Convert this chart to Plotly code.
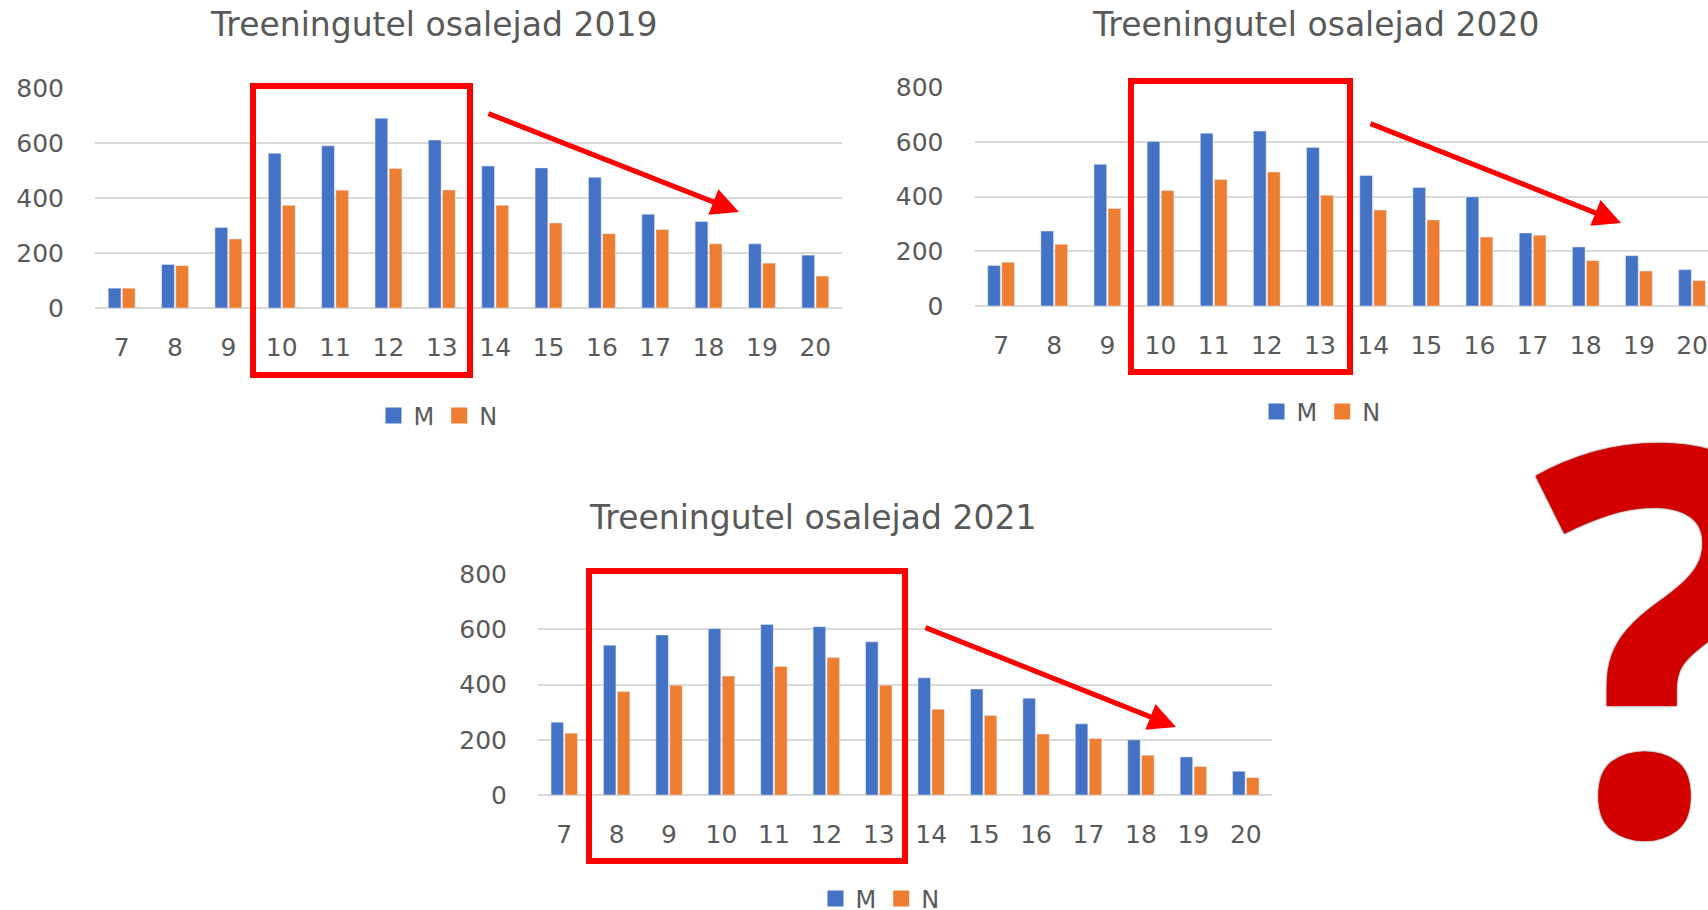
import plotly.graph_objects as go

W, H = 1708, 910

ages = ["7", "8", "9", "10", "11", "12", "13", "14", "15", "16", "17", "18", "19", "20"]
m_2019 = [72, 158, 292, 562, 589, 689, 610, 516, 509, 475, 341, 314, 233, 192]
n_2019 = [72, 154, 251, 373, 428, 507, 429, 373, 309, 270, 285, 233, 163, 116]
m_2020 = [148, 274, 518, 602, 632, 640, 580, 477, 433, 399, 267, 216, 184, 133]
n_2020 = [160, 226, 357, 422, 463, 490, 405, 351, 315, 252, 259, 166, 128, 93]
m_2021 = [264, 543, 580, 603, 618, 610, 555, 425, 384, 351, 258, 200, 138, 86]
n_2021 = [224, 375, 398, 431, 466, 498, 398, 311, 288, 221, 205, 144, 103, 63]
titles = ["Treeningutel osalejad 2019", "Treeningutel osalejad 2020", "Treeningutel osalejad 2021"]
series_names = ["M", "N"]

BLUE = "#4472C4"
ORANGE = "#ED7D31"
GRAY = "#595959"
GRID = "#D9D9D9"
RED = "#FF0000"
FONT = "DejaVu Sans"


def px(x):
    return x / W


def py(y):
    return 1 - y / H


fig = go.Figure()

data = [(m_2019, n_2019), (m_2020, n_2020), (m_2021, n_2021)]
colors = [BLUE, ORANGE]
for i, pair in enumerate(data):
    k = "" if i == 0 else str(i + 1)
    leg = "legend" + k
    for vals, name, col in zip(pair, series_names, colors):
        fig.add_trace(go.Bar(x=ages, y=vals, name=name, marker_color=col,
                             xaxis="x" + k, yaxis="y" + k, showlegend=False))
    # legend entries with larger square swatches
    for name, col in zip(series_names, colors):
        fig.add_trace(go.Scatter(x=[None], y=[None], mode="markers", name=name,
                                 marker=dict(symbol="square", size=16, color=col),
                                 xaxis="x" + k, yaxis="y" + k, legend=leg,
                                 hoverinfo="skip"))

# subplot geometry (pixels)
geo = [
    dict(xd=(95, 842), yd=(308, 87.5), xr=[-0.5, 13.5], title=(433, 24), leg=(438, 416)),
    dict(xd=(974.5, 1708), yd=(306, 87), xr=[-0.5, 13.3], title=(1315, 24), leg=(1321, 412)),
    dict(xd=(538, 1272), yd=(795, 574), xr=[-0.5, 13.5], title=(812, 517), leg=(880, 899)),
]

layout = dict(
    width=W, height=H, autosize=False,
    margin=dict(l=0, r=0, t=0, b=0, autoexpand=False),
    paper_bgcolor="white", plot_bgcolor="white",
    barmode="group", bargap=0.47, bargroupgap=0.1,
    font=dict(family=FONT, color=GRAY),
    showlegend=True,
)

annotations = []
shapes = []
for i, g in enumerate(geo):
    k = "" if i == 0 else str(i + 1)
    layout["xaxis" + k] = dict(
        domain=[px(g["xd"][0]), min(1, px(g["xd"][1]))],
        anchor="y" + k, type="category", range=g["xr"],
        categoryorder="array", categoryarray=ages,
        showgrid=False, showline=False, zeroline=False, ticks="",
        tickfont=dict(family=FONT, size=25, color=GRAY),
        ticklabelstandoff=22, fixedrange=True,
    )
    layout["yaxis" + k] = dict(
        domain=[py(g["yd"][0]), py(g["yd"][1])],
        anchor="x" + k, range=[0, 801], dtick=200, tick0=0,
        showgrid=True, gridcolor=GRID, gridwidth=1.5,
        zeroline=True, zerolinecolor=GRID, zerolinewidth=1.5,
        showline=False, ticks="",
        tickfont=dict(family=FONT, size=25, color=GRAY),
        ticklabelstandoff=30, fixedrange=True,
    )
    layout["legend" + k] = dict(
        orientation="h", x=px(g["leg"][0]), xanchor="center",
        y=py(g["leg"][1]), yanchor="middle",
        font=dict(family=FONT, size=24, color=GRAY),
        bgcolor="rgba(0,0,0,0)", itemclick=False, itemdoubleclick=False,
        traceorder="normal", itemsizing="trace",
    )
    annotations.append(dict(
        text=titles[i], x=px(g["title"][0]), y=py(g["title"][1]),
        xref="paper", yref="paper", xanchor="center", yanchor="middle",
        showarrow=False, font=dict(family=FONT, size=33, color=GRAY),
    ))

# red highlight boxes
boxes = [(253, 86, 470, 375), (1131, 81, 1350, 372), (589, 571, 905, 861)]
for (x0, y0, x1, y1) in boxes:
    shapes.append(dict(type="rect", xref="paper", yref="paper",
                       x0=px(x0), x1=px(x1), y0=py(y1), y1=py(y0),
                       line=dict(color=RED, width=6), fillcolor="rgba(0,0,0,0)"))

# red trend arrows (head position, tail offset)
arrows = [((739, 212), (-252, -99)), ((1621, 223), (-252, -100)), ((1176, 727), (-252, -100))]
for (hx, hy), (ax, ay) in arrows:
    annotations.append(dict(
        x=px(hx), y=py(hy), xref="paper", yref="paper",
        ax=ax, ay=ay, axref="pixel", ayref="pixel",
        text="", showarrow=True, arrowhead=2, arrowsize=1.1,
        arrowwidth=5, arrowcolor=RED,
    ))

# big question mark
annotations.append(dict(
    text="?", x=px(1663), y=py(624), xref="paper", yref="paper",
    xanchor="center", yanchor="middle", showarrow=False,
    font=dict(family="Open Sans", size=540, color="#D30000", weight="bold",
              shadow="0px 0px 2px #4a0000"),
))

layout["annotations"] = annotations
layout["shapes"] = shapes
fig.update_layout(**layout)

fig.write_html(
    "out.html",
    config={"displayModeBar": False},
    post_script="document.body.style.margin='0';document.body.style.overflow='hidden';",
)
